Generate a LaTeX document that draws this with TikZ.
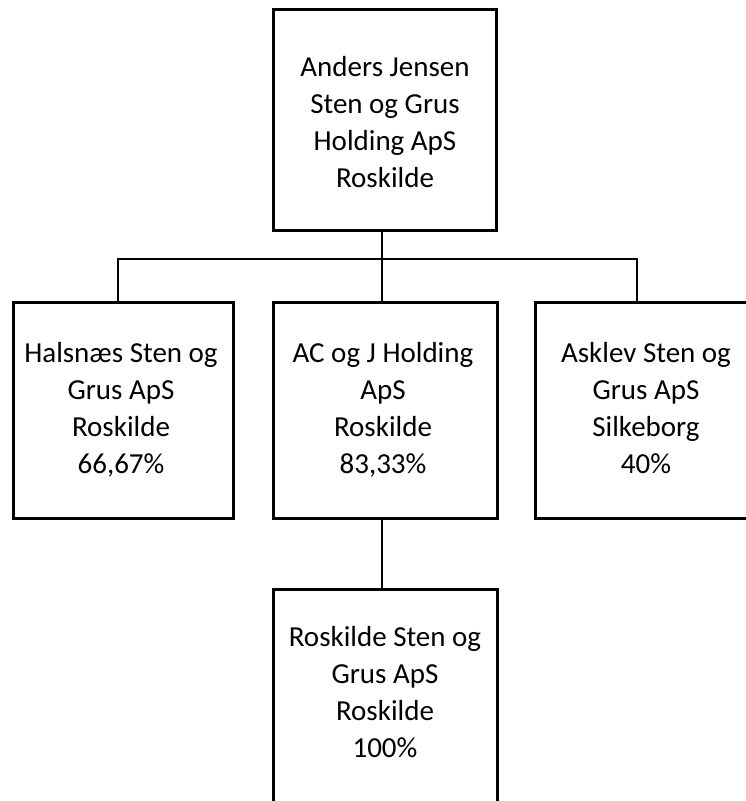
\documentclass[tikz,border=0pt]{standalone}
\usepackage{fontspec}
\setmainfont{Carlito}
\begin{document}
\begin{tikzpicture}[x=1pt,y=-1pt,
  orgbox/.style={draw=black, line width=3pt, inner sep=0pt, minimum height=216pt},
  orgtext/.style={align=center, anchor=base, inner sep=0pt,
    font=\fontsize{29pt}{37pt}\selectfont},
  link/.style={draw=black, line width=1.8pt}]
\useasboundingbox (0,0) rectangle (746,801);
\clip (0,0) rectangle (746,801);
% boxes
\node[orgbox, minimum width=223.5pt, minimum height=220.5pt] (top) at (385,120) {};
\node[orgbox, minimum width=220pt] (left) at (123.5,410) {};
\node[orgbox, minimum width=224pt] (mid) at (385,410) {};
\node[orgbox, minimum width=222pt] (right) at (646,410) {};
\node[orgbox, minimum width=224pt, minimum height=220pt] (bot) at (385,699) {};
% texts (anchor base = baseline of last line)
\node[orgtext] (topT) at (385,187) {Anders Jensen\\Sten og Grus\\Holding ApS\\Roskilde};
\node[orgtext] (leftT) at (121,473) {Halsnæs Sten og\\Grus ApS\\Roskilde\\66,67\%};
\node[orgtext] (midT) at (383,473) {AC og J Holding\\ApS\\Roskilde\\83,33\%};
\node[orgtext] (rightT) at (646,473) {Asklev Sten og\\Grus ApS\\Silkeborg\\40\%};
\node[orgtext] (botT) at (385,757) {Roskilde Sten og\\Grus ApS\\Roskilde\\100\%};
% connectors
\coordinate (jL) at (118,259);
\coordinate (jM) at (382,259);
\coordinate (jR) at (637,259);
\draw[link] (jM |- top.south) -- (jM |- mid.north);
\draw[link] (jL |- left.north) -- (jL) -- (jR) -- (jR |- right.north);
\draw[link] (jM |- mid.south) -- (jM |- bot.north);
\end{tikzpicture}
\end{document}
